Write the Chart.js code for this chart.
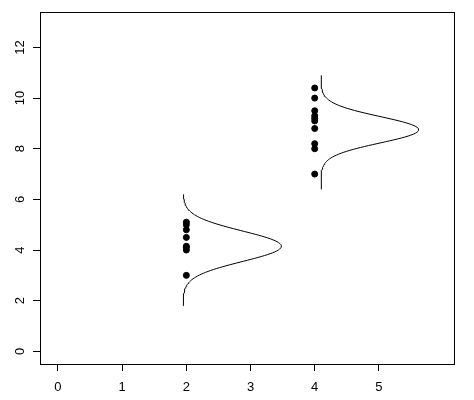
<!DOCTYPE html><html><head><script src="https://cdn.jsdelivr.net/npm/chart.js@4"></script>
<style>html,body{margin:0;background:#fff}#w{width:474px;height:400px}</style></head><body><div id="w"><canvas id="c"></canvas></div>
<script>
const xTicks=[0,1,2,3,4,5];
const yTicks=[0,2,4,6,8,10,12];
const group1X=2, group1Y=[5.1,5.0,4.8,4.5,4.15,4.1,4.0,3.0];
const group2X=4, group2Y=[10.4,10.0,9.5,9.3,9.2,9.1,8.8,8.2,8.0,7.0];
// density curves: base x, peak height (x units), center, sd, y range
const curve1={base:1.95,height:1.53,mean:4.15,sd:0.6,lo:1.8,hi:6.2};
const curve2={base:4.1,height:1.52,mean:8.75,sd:0.52,lo:6.4,hi:10.9};
function curvePts(c){const p=[];for(let i=0;i<=120;i++){const y=c.lo+(c.hi-c.lo)*i/120;const z=(y-c.mean)/c.sd;p.push({x:c.base+c.height*Math.exp(-z*z/2),y});}return p;}
const pts=(x,ys)=>ys.map(y=>({x,y}));
const F='"Liberation Sans",Arial,sans-serif';
const deco={id:'deco',afterDraw(ch){const {ctx,chartArea:a,scales:{y}}=ch;ctx.save();ctx.strokeStyle='#000';ctx.lineWidth=1;ctx.strokeRect(a.left+0.5,a.top+0.5,a.right-a.left,a.bottom-a.top);
ctx.fillStyle='#000';ctx.font='13px '+F;ctx.textAlign='center';ctx.textBaseline='middle';
yTicks.forEach(v=>{const py=y.getPixelForValue(v);ctx.save();ctx.translate(a.left-20,py);ctx.rotate(-Math.PI/2);ctx.fillText(String(v),0,0);ctx.restore();});ctx.restore();}};
new Chart(document.getElementById('c'),{type:'scatter',data:{datasets:[
{data:pts(group1X,group1Y),pointRadius:3,backgroundColor:'#000',borderColor:'#000'},
{data:pts(group2X,group2Y),pointRadius:3,backgroundColor:'#000',borderColor:'#000'},
{type:'line',data:curvePts(curve1),borderColor:'#000',borderWidth:1,pointRadius:0,tension:0},
{type:'line',data:curvePts(curve2),borderColor:'#000',borderWidth:1,pointRadius:0,tension:0}]},
options:{animation:false,responsive:true,maintainAspectRatio:false,plugins:{legend:{display:false},tooltip:{enabled:false}},
layout:{padding:{top:12,right:20,left:0,bottom:0}},
scales:{x:{type:'linear',min:-0.28,max:6.17,afterBuildTicks:s=>{s.ticks=xTicks.map(v=>({value:v}));},afterFit:s=>{s.height=36;},
grid:{display:true,drawOnChartArea:false,tickLength:7,color:'#000'},border:{display:false},ticks:{color:'#000',font:{size:13,family:F},padding:9,maxRotation:0}},
y:{type:'linear',min:-0.5,max:13.4,afterBuildTicks:s=>{s.ticks=yTicks.map(v=>({value:v}));},afterFit:s=>{s.width=40;},
grid:{display:true,drawOnChartArea:false,tickLength:7,color:'#000'},border:{display:false},ticks:{display:false}}}},
plugins:[deco]});
</script></body></html>
